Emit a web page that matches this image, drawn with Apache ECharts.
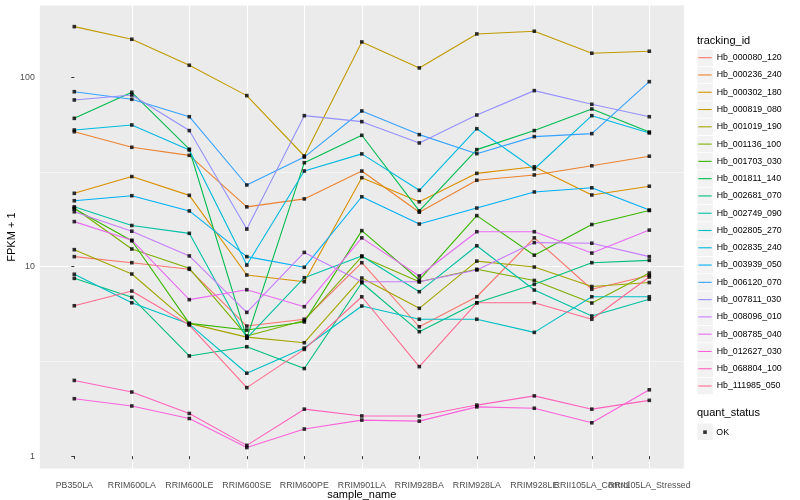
<!DOCTYPE html>
<html><head><meta charset="utf-8">
<script src="https://cdn.jsdelivr.net/npm/echarts@6/dist/echarts.min.js"></script>
<style>html,body{margin:0;padding:0;background:#fff}#c{width:800px;height:500px}</style>
</head><body><div id="c"></div>
<script>
const categories = ['PB350LA','RRIM600LA','RRIM600LE','RRIM600SE','RRIM600PE','RRIM901LA','RRIM928BA','RRIM928LA','RRIM928LE','RRII105LA_Control','RRII105LA_Stressed'];
const yTickValues = [1, 10, 100];
const trackingIds = ['Hb_000080_120','Hb_000236_240','Hb_000302_180','Hb_000819_080','Hb_001019_190','Hb_001136_100','Hb_001703_030','Hb_001811_140','Hb_002681_070','Hb_002749_090','Hb_002805_270','Hb_002835_240','Hb_003939_050','Hb_006120_070','Hb_007811_030','Hb_008096_010','Hb_008785_040','Hb_012627_030','Hb_068804_100','Hb_111985_050'];
const palette = ['#F8766D','#EA8331','#D89000','#C09B00','#A3A500','#7CAE00','#39B600','#00BB4E','#00BF7D','#00C1A3','#00BFC4','#00BAE0','#00B0F6','#35A2FF','#9590FF','#C77CFF','#E76BF3','#FA62DB','#FF62BC','#FF6C90'];

// FPKM + 1 per sample (order of categories)
const Hb_000080_120 = [11.3, 10.5, 9.69, 4.86, 5.28, 10.5, 4.82, 6.94, 14.2, 7.60, 8.99];
const Hb_000236_240 = [51.6, 42.7, 38.7, 20.7, 22.8, 32.0, 19.4, 28.6, 30.5, 34.1, 38.3];
const Hb_000302_180 = [24.4, 29.9, 23.8, 9.04, 8.33, 29.5, 22.0, 31.1, 33.7, 23.9, 26.6];
const Hb_000819_080 = [185, 158.7, 115.7, 80.0, 38.4, 153.6, 112.0, 169.3, 175.0, 133.9, 137.2];
const Hb_001019_190 = [12.3, 9.15, 5.02, 4.25, 3.97, 8.72, 6.03, 10.7, 9.96, 7.86, 8.25];
const Hb_001136_100 = [20.4, 12.4, 9.81, 4.31, 5.20, 11.3, 8.33, 9.69, 8.46, 6.43, 9.26];
const Hb_001703_030 = [20.2, 13.7, 5.02, 4.63, 5.11, 15.5, 8.51, 18.6, 11.5, 16.7, 19.8];
const Hb_001811_140 = [60.7, 83.3, 41.7, 4.20, 35.4, 49.4, 19.7, 41.5, 52.3, 68.0, 51.4];
const Hb_002681_070 = [8.68, 6.89, 3.38, 3.78, 2.90, 8.23, 4.54, 6.45, 8.07, 10.5, 10.8];
const Hb_002749_090 = [20.7, 16.5, 15.0, 4.20, 8.75, 11.4, 7.38, 12.9, 7.53, 5.49, 6.73];
const Hb_002805_270 = [9.12, 6.45, 4.98, 2.74, 3.72, 6.20, 5.28, 5.28, 4.50, 6.94, 6.94];
const Hb_002835_240 = [52.7, 56.0, 41.3, 10.2, 32.0, 39.4, 25.3, 53.5, 32.8, 62.7, 50.8];
const Hb_003939_050 = [22.3, 23.7, 19.7, 11.3, 9.93, 23.4, 16.8, 20.4, 24.8, 26.1, 19.9];
const Hb_006120_070 = [83.9, 76.5, 61.9, 27.0, 37.9, 66.4, 49.8, 39.5, 48.6, 50.4, 94.8];
const Hb_007811_030 = [75.9, 80.6, 52.3, 15.8, 62.7, 58.3, 45.0, 63.2, 85.0, 72.0, 61.9];
const Hb_008096_010 = [19.5, 15.4, 11.4, 5.74, 11.9, 8.33, 8.33, 9.61, 13.4, 13.3, 11.3];
const Hb_008785_040 = [17.3, 13.8, 6.70, 7.56, 6.15, 14.2, 8.93, 15.3, 15.3, 11.8, 15.6];
const Hb_012627_030 = [2.01, 1.84, 1.58, 1.11, 1.39, 1.55, 1.53, 1.82, 1.79, 1.50, 2.24];
const Hb_068804_100 = [2.51, 2.18, 1.68, 1.14, 1.77, 1.63, 1.63, 1.86, 2.08, 1.77, 1.97];
const Hb_111985_050 = [6.22, 7.44, 4.92, 2.30, 3.66, 6.94, 2.97, 6.45, 6.45, 5.28, 8.82];

const seriesValues = [Hb_000080_120, Hb_000236_240, Hb_000302_180, Hb_000819_080, Hb_001019_190, Hb_001136_100, Hb_001703_030, Hb_001811_140, Hb_002681_070, Hb_002749_090, Hb_002805_270, Hb_002835_240, Hb_003939_050, Hb_006120_070, Hb_007811_030, Hb_008096_010, Hb_008785_040, Hb_012627_030, Hb_068804_100, Hb_111985_050];

const FONT = '"Liberation Sans", Arial, Helvetica, sans-serif';
let lo = Infinity, hi = -Infinity;
seriesValues.forEach(a => a.forEach(v => { const l = Math.log10(v); lo = Math.min(lo, l); hi = Math.max(hi, l); }));
const padY = (hi - lo) * 0.05;
const yMin = lo - padY, yMax = hi + padY;
const xMin = -0.6, xMax = categories.length - 1 + 0.6;
const catIdx = categories.map((c, i) => i);
// a trailing blank label at the right edge so both overlapping last labels stay visible
const xLabelVals = catIdx.concat([xMax]);
const yTicks = yTickValues.map(v => Math.log10(v));

const series = seriesValues.map((vals, k) => ({
  type: 'line', name: trackingIds[k], color: palette[k],
  data: vals.map((v, i) => [i, Math.log10(v)]),
  symbol: 'none', silent: true, animation: false,
  lineStyle: { color: palette[k], width: 1.1 },
  itemStyle: { color: palette[k] }
}));
const pts = [];
seriesValues.forEach(vals => vals.forEach((v, i) => pts.push([i, Math.log10(v)])));
series.push({
  type: 'scatter', name: 'OK', data: pts, symbol: 'rect', symbolSize: 3.6,
  itemStyle: { color: '#000' }, z: 5, silent: true, animation: false
});

const legTop = 49.06, step = 17.28;
const graphics = [
  { type: 'text', left: 697, top: 35, style: { text: 'tracking_id', font: '11px ' + FONT, fill: '#000' } },
  { type: 'text', left: 697, top: 407, style: { text: 'quant_status', font: '11px ' + FONT, fill: '#000' } }
];
trackingIds.forEach((id, i) => {
  graphics.push({ type: 'rect', z: 0, shape: { x: 697.3, y: legTop + i * step + 0.4, width: 15.5, height: step - 0.8 }, style: { fill: '#F2F2F2' } });
});
graphics.push({ type: 'rect', z: 0, shape: { x: 697.3, y: 423.5, width: 15.5, height: step - 0.8 }, style: { fill: '#F2F2F2' } });

const chart = echarts.init(document.getElementById('c'), null, { renderer: 'canvas' });
chart.setOption({
  animation: false,
  backgroundColor: '#fff',
  grid: { left: 39.8, right: 116.2, top: 5.6, bottom: 31.4, show: true, backgroundColor: '#EBEBEB', borderWidth: 0, containLabel: false, outerBoundsMode: 'none' },
  xAxis: {
    type: 'value', min: xMin, max: xMax, minInterval: 1, maxInterval: 1,
    name: 'sample_name', nameLocation: 'middle', nameGap: 21, nameMoveOverlap: false,
    nameTextStyle: { fontFamily: FONT, fontSize: 11, color: '#000' },
    axisLine: { show: false },
    axisTick: { show: true, customValues: xLabelVals, length: 3, lineStyle: { color: '#333', width: 1 } },
    axisLabel: { customValues: xLabelVals, formatter: v => (Math.abs(v - Math.round(v)) < 1e-6 && categories[Math.round(v)]) || '', margin: 12, fontFamily: FONT, fontSize: 8.8, color: '#4D4D4D', hideOverlap: false, showMinLabel: true, showMaxLabel: false },
    splitLine: { show: true, showMinLine: false, showMaxLine: false, lineStyle: { color: '#fff', width: 1 } }
  },
  yAxis: {
    type: 'value', min: yMin, max: yMax, minInterval: 1, maxInterval: 1, splitNumber: 2,
    name: 'FPKM + 1', nameLocation: 'middle', nameGap: 22, nameRotate: 90, nameMoveOverlap: false,
    nameTextStyle: { fontFamily: FONT, fontSize: 11, color: '#000' },
    axisLine: { show: false },
    axisTick: { show: true, customValues: yTicks, length: 3, lineStyle: { color: '#333', width: 1 } },
    axisLabel: { customValues: yTicks, formatter: v => String(Math.round(Math.pow(10, v))), margin: 5, fontFamily: FONT, fontSize: 8.8, color: '#4D4D4D', showMinLabel: true, showMaxLabel: true },
    splitLine: { show: true, showMinLine: false, showMaxLine: false, lineStyle: { color: '#fff', width: 1 } },
    minorTick: { show: false, splitNumber: 2 },
    minorSplitLine: { show: true, lineStyle: { color: '#fff', width: 0.5 } }
  },
  legend: [
    { data: trackingIds, orient: 'vertical', left: 698.3, top: legTop, padding: 0, itemGap: 0,
      icon: 'rect', itemWidth: 13.4, itemHeight: 1.1, selectedMode: false,
      textStyle: { fontFamily: FONT, fontSize: 8.8, color: '#000', lineHeight: step } },
    { data: [{ name: 'OK', icon: 'rect' }], orient: 'vertical', left: 703.2, top: 423.5, padding: 0, itemGap: 0,
      itemWidth: 3.6, itemHeight: 3.6, selectedMode: false, itemStyle: { color: '#000' },
      textStyle: { fontFamily: FONT, fontSize: 8.8, color: '#000', lineHeight: step, padding: [0, 0, 0, 4.5] } }
  ],
  graphic: graphics,
  series: series
});
</script></body></html>
